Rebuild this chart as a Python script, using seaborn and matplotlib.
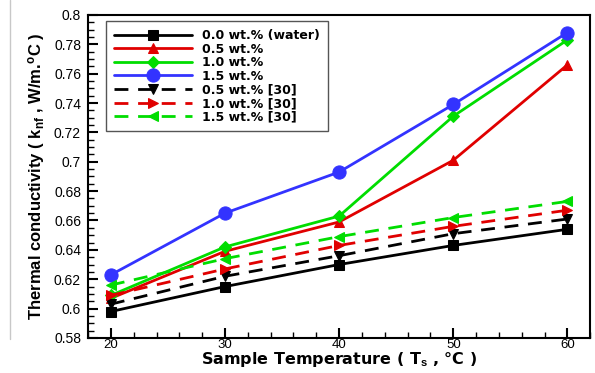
import matplotlib
matplotlib.use("Agg")
import matplotlib.pyplot as plt
import matplotlib.ticker as ticker
from matplotlib.lines import Line2D
import seaborn as sns

# ─── Data ─────────────────────────────────────────────────────────────────────
temps = [20, 30, 40, 50, 60]

water      = [0.598, 0.615, 0.630, 0.643, 0.654]
wt05       = [0.607, 0.639, 0.659, 0.701, 0.766]
wt10       = [0.609, 0.642, 0.663, 0.731, 0.783]
wt15       = [0.623, 0.665, 0.693, 0.739, 0.788]
ref_wt05   = [0.603, 0.622, 0.636, 0.651, 0.661]
ref_wt10   = [0.609, 0.627, 0.643, 0.656, 0.667]
ref_wt15   = [0.616, 0.634, 0.649, 0.662, 0.673]

labels = ["0.0 wt.% (water)", "0.5 wt.%", "1.0 wt.%", "1.5 wt.%",
          "0.5 wt.% [30]", "1.0 wt.% [30]", "1.5 wt.% [30]"]

# ─── Style ────────────────────────────────────────────────────────────────────
sns.set_style("white", {"text.color": "black", "axes.labelcolor": "black",
                        "xtick.color": "black", "ytick.color": "black"})
plt.rcParams["font.family"] = ["Liberation Sans", "DejaVu Sans"]
plt.rcParams["mathtext.fontset"] = "custom"
plt.rcParams["mathtext.rm"] = "Liberation Sans:bold"
plt.rcParams["mathtext.it"] = "Liberation Sans:bold"
plt.rcParams["mathtext.bf"] = "Liberation Sans:bold"
plt.rcParams["mathtext.default"] = "rm"

series = [
    (water,    "black",   "s", "-",  7),
    (wt05,     "#e00000", "^", "-",  7.5),
    (wt10,     "#00dd00", "D", "-",  6.5),
    (wt15,     "#3333ff", "o", "-",  9.5),
    (ref_wt05, "black",   "v", "--", 7.5),
    (ref_wt10, "#e00000", ">", "--", 7.5),
    (ref_wt15, "#00dd00", "<", "--", 7.5),
]

fig = plt.figure(figsize=(5.95, 3.73), dpi=100)
ax = fig.add_axes([0.148, 0.094, 0.844, 0.866])

for (vals, col, mk, ls, ms), lab in zip(series, labels):
    sns.lineplot(x=temps, y=vals, ax=ax, color=col, marker=mk, markersize=ms,
                 markeredgecolor=col, markerfacecolor=col, linewidth=2.0,
                 linestyle=ls, label=lab, dashes=False)
    if ls == "--":
        ax.lines[-1].set_dashes((5, 3.5))

ax.set_xlim(18, 62)
ax.set_ylim(0.58, 0.8)
ax.xaxis.set_major_locator(ticker.MultipleLocator(10))
ax.xaxis.set_minor_locator(ticker.MultipleLocator(2))
ax.yaxis.set_major_locator(ticker.MultipleLocator(0.02))
ax.yaxis.set_minor_locator(ticker.MultipleLocator(0.005))
ax.yaxis.set_major_formatter(ticker.FuncFormatter(
    lambda v, p: f"{v:.2f}".rstrip("0").rstrip(".")))

ax.tick_params(which="major", direction="in", length=7, width=1.5,
               labelsize=10, bottom=True, left=True, top=False, right=False)
ax.tick_params(axis="x", which="major", pad=1, labelsize=9.5)
ax.tick_params(axis="y", which="major", pad=5)
ax.tick_params(which="minor", direction="in", length=4, width=1,
               bottom=True, left=True, top=False, right=False)
for sp in ax.spines.values():
    sp.set_color("black")
    sp.set_linewidth(1.5)

ax.set_xlabel("Sample Temperature ( T$_s$ , °C )", fontsize=11.5,
              fontweight="bold", family="DejaVu Sans", labelpad=-1)
ax.set_ylabel("Thermal conductivity ( k$_{nf}$ , W/m.$^{o}$C )", fontsize=12,
              fontweight="bold", labelpad=5)

leg = ax.legend(loc="upper left", bbox_to_anchor=(0.036, 0.98), frameon=True,
                fancybox=False, edgecolor="#555555", framealpha=1,
                prop={"family": "DejaVu Sans", "weight": "bold", "size": 9},
                handlelength=6.3, labelspacing=0.05, borderpad=0.6,
                handletextpad=0.8, borderaxespad=0)
leg.get_frame().set_linewidth(1.0)

# thin grey border line at the left edge of the scan
fig.add_artist(Line2D([10 / 595, 10 / 595], [0.09, 1.0], color="#c8c8c8",
                      lw=1, transform=fig.transFigure))

fig.savefig("out.png", dpi=100)
